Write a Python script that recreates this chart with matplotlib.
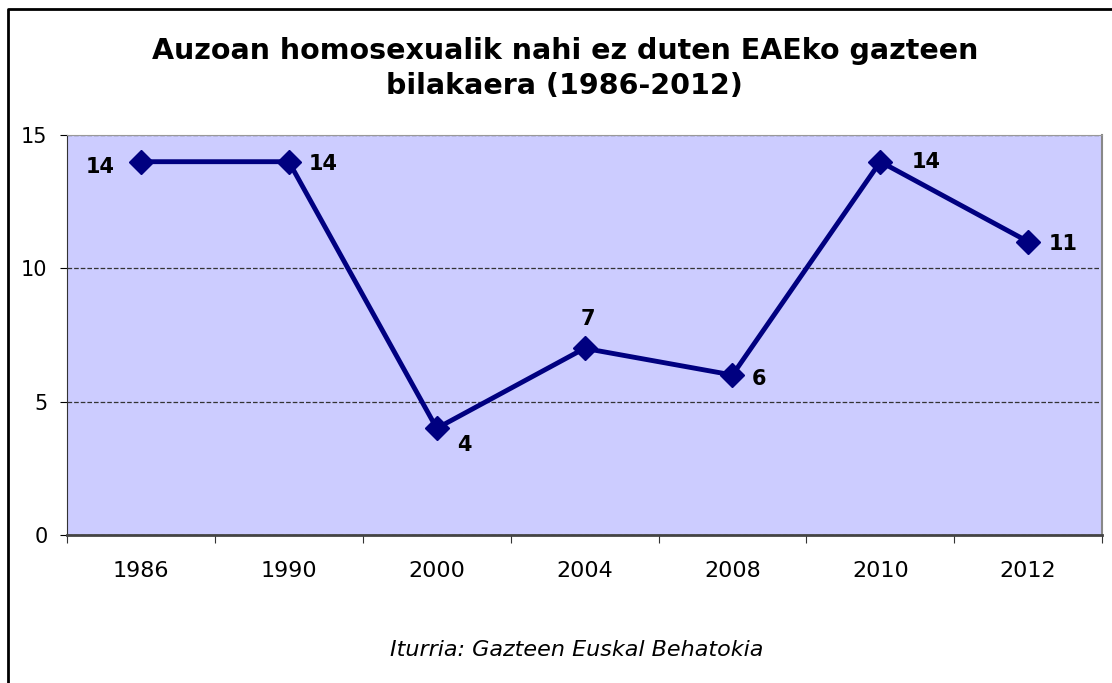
import matplotlib.pyplot as plt
from matplotlib.lines import Line2D

# datuak
years = ['1986', '1990', '2000', '2004', '2008', '2010', '2012']
values = [14, 14, 4, 7, 6, 14, 11]
# etiketen kokapena (dx, dy pixeletan)
offsets = [(-41, -5), (34, -2), (28, -17), (3, 29), (27, -4), (46, 0), (35, -2)]

plt.rcParams['font.family'] = ['DejaVu Sans']

fig = plt.figure(figsize=(11.12, 6.83), dpi=100)
# kanpoko markoa (ezkerra eta goia bakarrik ikusten dira)
fig.add_artist(Line2D([0.0068, 0.0068, 1.0], [0.0, 0.9868, 0.9868], transform=fig.transFigure,
                      color='black', linewidth=2))

ax = fig.add_axes([0.0603, 0.2167, 0.9308, 0.5856])
ax.set_facecolor('#CCCCFF')

x = list(range(len(years)))
ax.plot(x, values, color='#000080', linewidth=3.5, marker='D', markersize=12, zorder=3)

for xi, v, (dx, dy) in zip(x, values, offsets):
    ax.annotate(str(v), (xi, v), xytext=(dx, dy), textcoords='offset pixels',
                ha='center', va='center', fontsize=15, fontweight='bold', color='black')

ax.set_xlim(-0.5, len(years) - 0.5)
ax.set_ylim(0, 15)
ax.set_yticks([0, 5, 10, 15])
ax.set_xticks([i - 0.5 for i in range(len(years) + 1)])
ax.set_xticklabels([])
ax.set_xticks(x, minor=True)
ax.set_xticklabels(years, minor=True)
ax.tick_params(axis='x', which='minor', length=0, pad=19, labelsize=16)
ax.tick_params(axis='x', which='major', length=6, direction='out', color='#333333')
ax.tick_params(axis='y', length=5, direction='out', labelsize=15, pad=9)

ax.yaxis.grid(True, linestyle='--', color='#333333', linewidth=0.9)
ax.set_axisbelow(True)

ax.spines['top'].set_color('#999999')
ax.spines['right'].set_color('#888888')
ax.spines['right'].set_linewidth(1.5)
ax.spines['left'].set_color('#333333')
ax.spines['bottom'].set_color('#444444')
ax.spines['bottom'].set_linewidth(2)

fig.text(0.508, 0.900, 'Auzoan homosexualik nahi ez duten EAEko gazteen\nbilakaera (1986-2012)',
         ha='center', va='center', fontsize=20.5, fontweight='bold', linespacing=1.3)
fig.text(0.519, 0.048, 'Iturria: Gazteen Euskal Behatokia', ha='center', va='center',
         fontsize=16, style='italic')

fig.savefig('out.png', dpi=100)
